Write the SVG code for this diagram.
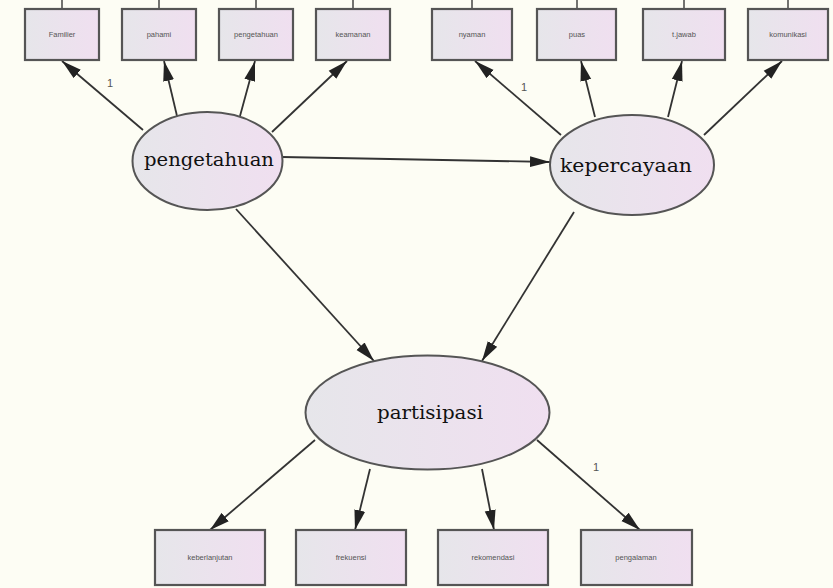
<svg xmlns="http://www.w3.org/2000/svg" width="833" height="588" viewBox="0 0 833 588">
<defs>
<linearGradient id="g" x1="0" y1="0" x2="1" y2="0">
<stop offset="0" stop-color="#e6e6ea"/>
<stop offset="1" stop-color="#f0dff0"/>
</linearGradient>
<marker id="ah" markerUnits="userSpaceOnUse" markerWidth="20" markerHeight="12" viewBox="0 0 20 12" refX="20" refY="6" orient="auto">
<path d="M0,0.5 L20,6 L0,11.5 Z" fill="#222"/>
</marker>
<style>
.box{fill:url(#g);stroke:#555;stroke-width:2.2}
.ell{fill:url(#g);stroke:#555;stroke-width:2}
.bl{font-family:"Liberation Sans",Arial,sans-serif;font-size:7.5px;fill:#555;text-anchor:middle}
.el{font-family:"DejaVu Serif","Liberation Serif",serif;font-size:19px;fill:#111;text-anchor:middle}
.c line{stroke:#333;stroke-width:1.8;marker-end:url(#ah)}
.t{stroke:#444;stroke-width:1.5}
.one{font-family:"Liberation Sans",Arial,sans-serif;font-size:11px;fill:#555;text-anchor:middle}
</style>
</defs>
<rect width="833" height="588" fill="#fdfdf4"/>
<g id="ticks">
<line class="t" x1="62" y1="0" x2="62" y2="9"/>
<line class="t" x1="159" y1="0" x2="159" y2="9"/>
<line class="t" x1="256" y1="0" x2="256" y2="9"/>
<line class="t" x1="353" y1="0" x2="353" y2="9"/>
<line class="t" x1="472" y1="0" x2="472" y2="9"/>
<line class="t" x1="577" y1="0" x2="577" y2="9"/>
<line class="t" x1="684" y1="0" x2="684" y2="9"/>
<line class="t" x1="788" y1="0" x2="788" y2="9"/>
</g>
<g class="c" id="connectors">
<line x1="143" y1="130" x2="62" y2="61"/>
<line x1="177" y1="116" x2="164" y2="61"/>
<line x1="240" y1="116" x2="255" y2="61"/>
<line x1="272" y1="132" x2="347" y2="61"/>
<line x1="561" y1="135" x2="475" y2="61"/>
<line x1="595" y1="117" x2="581" y2="61"/>
<line x1="668" y1="117" x2="682" y2="61"/>
<line x1="704" y1="135" x2="782" y2="61"/>
<line x1="282" y1="157" x2="550" y2="162"/>
<line x1="236" y1="209" x2="374" y2="361"/>
<line x1="574" y1="212" x2="482" y2="361"/>
<line x1="315" y1="440" x2="210" y2="530"/>
<line x1="370" y1="469" x2="355" y2="530"/>
<line x1="482" y1="469" x2="494" y2="530"/>
<line x1="537" y1="440" x2="640" y2="530"/>
</g>
<text class="one" x="110" y="87">1</text>
<text class="one" x="524" y="91">1</text>
<text class="one" x="596" y="471">1</text>
<g id="familier"><rect class="box" x="25" y="9" width="74" height="51"/><text class="bl" x="62" y="37">Familier</text></g>
<g id="pahami"><rect class="box" x="122" y="9" width="74" height="51"/><text class="bl" x="159" y="37">pahami</text></g>
<g id="pengetahuan-box"><rect class="box" x="219" y="9" width="74" height="51"/><text class="bl" x="256" y="37">pengetahuan</text></g>
<g id="keamanan"><rect class="box" x="316" y="9" width="74" height="51"/><text class="bl" x="353" y="37">keamanan</text></g>
<g id="nyaman"><rect class="box" x="432" y="9" width="80" height="51"/><text class="bl" x="472" y="37">nyaman</text></g>
<g id="puas"><rect class="box" x="537" y="9" width="79" height="51"/><text class="bl" x="577" y="37">puas</text></g>
<g id="tjawab"><rect class="box" x="643" y="9" width="82" height="51"/><text class="bl" x="684" y="37">t.jawab</text></g>
<g id="komunikasi"><rect class="box" x="748" y="9" width="80" height="51"/><text class="bl" x="788" y="37">komunikasi</text></g>
<g id="pengetahuan"><ellipse class="ell" cx="207.5" cy="161" rx="75" ry="49"/><text class="el" x="209" y="166" textLength="130" lengthAdjust="spacingAndGlyphs">pengetahuan</text></g>
<g id="kepercayaan"><ellipse class="ell" cx="632" cy="165" rx="82" ry="50"/><text class="el" x="626" y="172" textLength="132" lengthAdjust="spacingAndGlyphs">kepercayaan</text></g>
<g id="partisipasi"><ellipse class="ell" cx="427.5" cy="412.5" rx="122" ry="57"/><text class="el" x="430" y="419" textLength="106" lengthAdjust="spacingAndGlyphs">partisipasi</text></g>
<g id="keberlanjutan"><rect class="box" x="155" y="530" width="110" height="55"/><text class="bl" x="210" y="560">keberlanjutan</text></g>
<g id="frekuensi"><rect class="box" x="296" y="530" width="110" height="55"/><text class="bl" x="351" y="560">frekuensi</text></g>
<g id="rekomendasi"><rect class="box" x="438" y="530" width="110" height="55"/><text class="bl" x="493" y="560">rekomendasi</text></g>
<g id="pengalaman"><rect class="box" x="581" y="530" width="111" height="55"/><text class="bl" x="636" y="560">pengalaman</text></g>
</svg>
